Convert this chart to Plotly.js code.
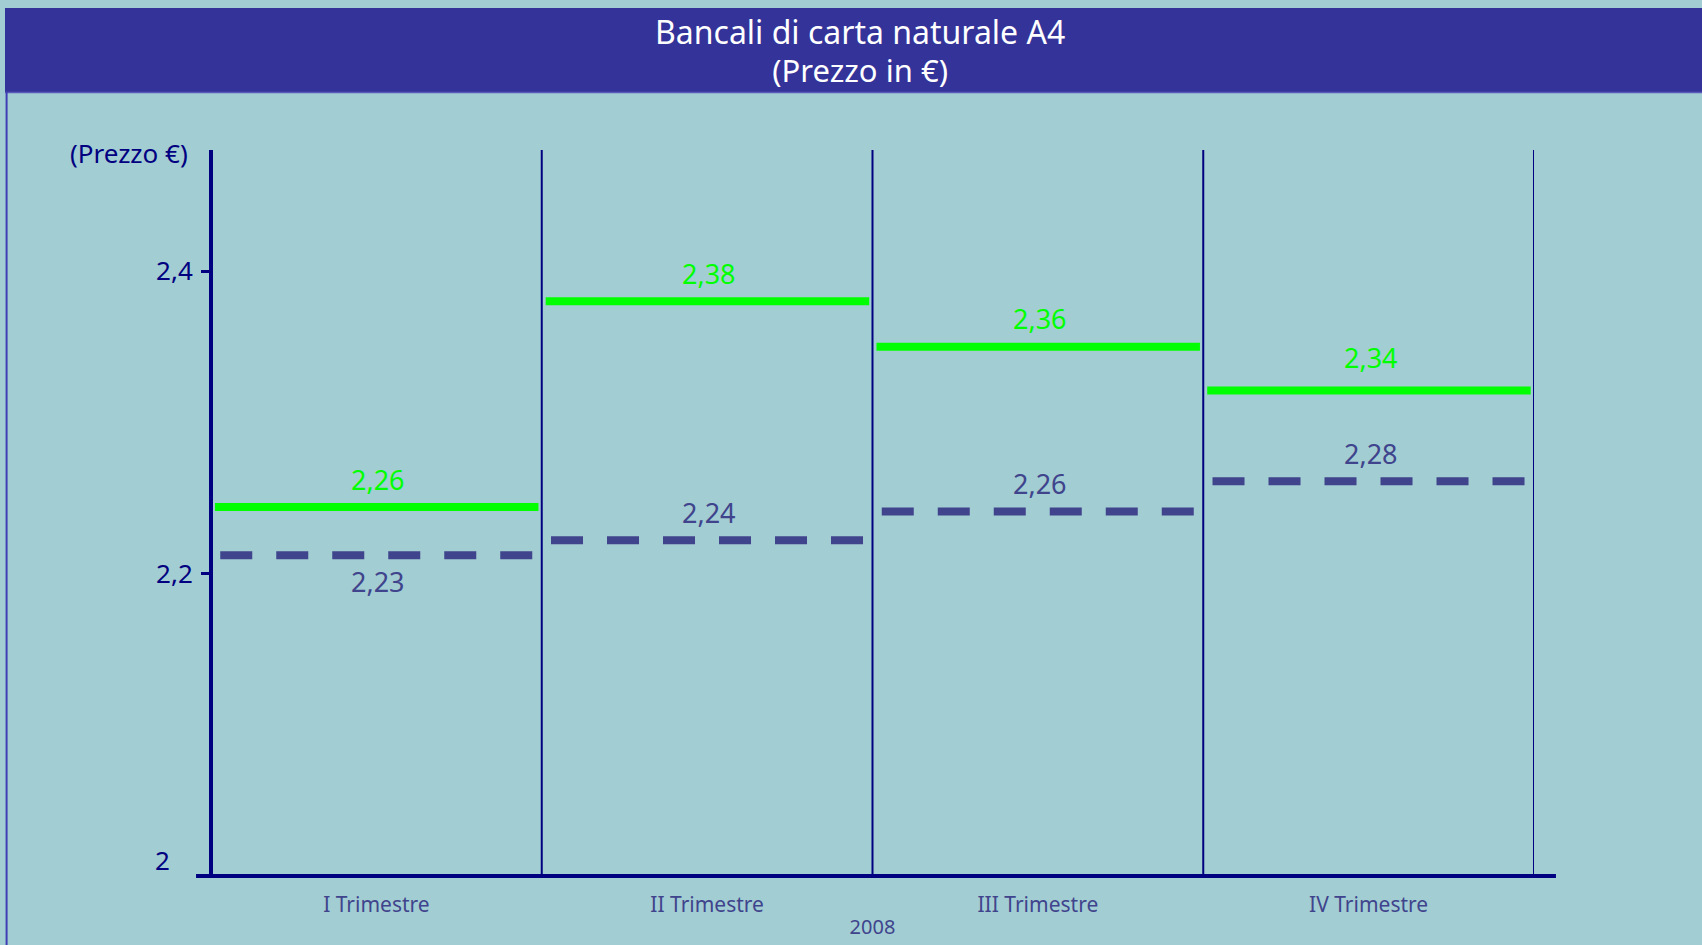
<!DOCTYPE html>
<html>
<head>
<meta charset="utf-8">
<script src="https://cdn.plot.ly/plotly-3.0.1.min.js"></script>
<style>
  html, body { margin: 0; padding: 0; background: #a2cdd3; }
  #chart { width: 1702px; height: 945px; }
</style>
</head>
<body>
<div id="chart"></div>
<script>
// ---- data ----
const titleLines = ['Bancali di carta naturale A4', '(Prezzo in €)'];
const categories = ['I Trimestre', 'II Trimestre', 'III Trimestre', 'IV Trimestre'];
const yearLabel = '2008';
const yAxisLabel = '(Prezzo €)';
// solid green series (line levels) and their printed labels
const greenValues = [2.244, 2.380, 2.350, 2.321];
const greenLabels = ['2,26', '2,38', '2,36', '2,34'];
// dashed series
const dashedValues = [2.212, 2.222, 2.241, 2.261];
const dashedLabels = ['2,23', '2,24', '2,26', '2,28'];
// y axis ticks
const yTickVals = [2.2, 2.4];
const yTickText = ['2,2', '2,4'];
const yBaseLabel = '2';
const yRange = [2, 2.48];

// ---- style ----
const BG = '#a2cdd3';
const NAVY = '#000080';
const SLATE = '#40448c';
const GREEN = '#00ff00';
const BAR = '#333399';
const FONT = 'Noto Sans, DejaVu Sans, sans-serif';
const greenLabelShift = [27, 28, 28, 33];
const dashedLabelShift = [-26, 28, 28, 28];

const traces = [];
categories.forEach((c, i) => {
  traces.push({
    type: 'scatter', mode: 'lines',
    x: [i + 0.012, i + 0.99], y: [greenValues[i], greenValues[i]],
    line: { color: GREEN, width: 8 }, hoverinfo: 'skip'
  });
  traces.push({
    type: 'scatter', mode: 'lines',
    x: [i + 0.028, i + 0.972], y: [dashedValues[i], dashedValues[i]],
    line: { color: SLATE, width: 8, dash: '32px,24px' }, hoverinfo: 'skip'
  });
});

const shapes = [];
// title bar
shapes.push({ type: 'rect', xref: 'paper', yref: 'paper', x0: -0.1557, x1: 1.13, y0: 1.0799, y1: 1.1956,
  fillcolor: BAR, line: { width: 0 }, layer: 'above' });
shapes.push({ type: 'line', xref: 'paper', yref: 'paper', x0: -0.1557, x1: 1.13, y0: 1.0792, y1: 1.0792,
  line: { color: '#5a5abb', width: 1.5 }, layer: 'above' });
// left frame border
shapes.push({ type: 'line', xref: 'paper', yref: 'paper', x0: -0.1545, x1: -0.1545, y0: 1.0799, y1: -0.1,
  line: { color: '#3f3fb3', width: 2 }, layer: 'above' });
// quarter separators
categories.forEach((c, i) => {
  shapes.push({ type: 'line', xref: 'x', yref: 'paper', x0: i + 1, x1: i + 1, y0: 0, y1: 1,
    line: { color: NAVY, width: 2 }, layer: 'below' });
});
// y axis line
shapes.push({ type: 'line', xref: 'paper', yref: 'paper', x0: 0, x1: 0, y0: 0, y1: 1,
  line: { color: NAVY, width: 4 }, layer: 'above' });
// x axis base line (extends beyond plot)
shapes.push({ type: 'line', xref: 'paper', yref: 'paper', x0: -0.0113, x1: 1.0166, y0: 0, y1: 0,
  line: { color: NAVY, width: 4 }, layer: 'above' });

const annotations = [];
annotations.push({ xref: 'paper', yref: 'paper', x: 0.4905, y: 1.1365, xanchor: 'center', yanchor: 'middle',
  text: '<span style="font-size:32px">' + titleLines[0] + '</span><br><span style="font-size:31px">' + titleLines[1] + '</span>',
  showarrow: false, font: { family: FONT, size: 29.2, color: '#ffffff' } });
annotations.push({ xref: 'paper', yref: 'paper', x: -0.0159, y: 0.9959, xanchor: 'right', yanchor: 'middle',
  text: yAxisLabel, showarrow: false, font: { family: FONT, size: 26, color: NAVY } });
annotations.push({ xref: 'paper', yref: 'y', x: -0.0363, y: yRange[0], yshift: 16, xanchor: 'center', yanchor: 'middle',
  text: yBaseLabel, showarrow: false, font: { family: FONT, size: 26, color: NAVY } });
categories.forEach((c, i) => {
  annotations.push({ xref: 'x', yref: 'y', x: i + 0.5, y: greenValues[i], xshift: 2, yshift: greenLabelShift[i],
    xanchor: 'center', yanchor: 'middle', text: greenLabels[i], showarrow: false,
    font: { family: FONT, size: 27, color: GREEN } });
  annotations.push({ xref: 'x', yref: 'y', x: i + 0.5, y: dashedValues[i], xshift: 2, yshift: dashedLabelShift[i],
    xanchor: 'center', yanchor: 'middle', text: dashedLabels[i], showarrow: false,
    font: { family: FONT, size: 27, color: SLATE } });
});

const layout = {
  width: 1702, height: 945,
  margin: { l: 211, r: 168, t: 150, b: 69 },
  paper_bgcolor: BG, plot_bgcolor: BG,
  showlegend: false, hovermode: false,
  font: { family: FONT },
  xaxis: {
    range: [0, 4], showgrid: false, zeroline: false, showline: false,
    tickvals: categories.map((c, i) => i + 0.5), ticktext: categories,
    ticks: '', ticklabelstandoff: 14, tickfont: { family: FONT, size: 21, color: SLATE },
    title: { text: yearLabel, font: { family: FONT, size: 20, color: SLATE }, standoff: 2 },
    fixedrange: true
  },
  yaxis: {
    range: yRange, showgrid: false, zeroline: false, showline: false,
    tickvals: yTickVals, ticktext: yTickText,
    ticks: 'outside', ticklen: 9, tickwidth: 3, tickcolor: NAVY, ticklabelstandoff: 3,
    tickfont: { family: FONT, size: 26, color: NAVY },
    fixedrange: true
  },
  shapes: shapes,
  annotations: annotations
};

Plotly.newPlot('chart', traces, layout, { staticPlot: true, displayModeBar: false });
</script>
</body>
</html>
